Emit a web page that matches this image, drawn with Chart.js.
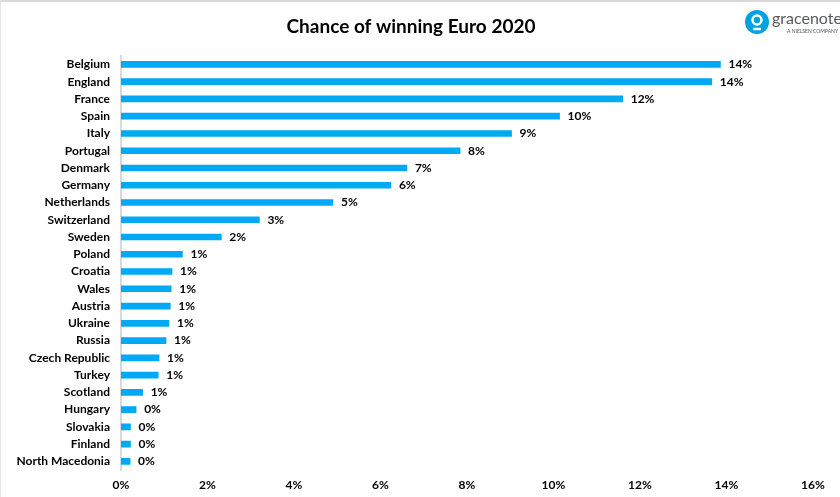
<!DOCTYPE html>
<html>
<head>
<meta charset="utf-8">
<script src="https://cdn.jsdelivr.net/npm/chart.js@4"></script>
<style>
  html, body { margin: 0; padding: 0; background: #fff; }
  #wrap { position: relative; width: 840px; height: 497px; box-sizing: border-box; border-top: 2px solid #d9d9d9; border-left: 1px solid #e5e5e5; }
</style>
</head>
<body>
<div id="wrap"><canvas id="euro"></canvas></div>
<script>
const countries = ["Belgium", "England", "France", "Spain", "Italy", "Portugal", "Denmark", "Germany",
                   "Netherlands", "Switzerland", "Sweden", "Poland", "Croatia", "Wales", "Austria",
                   "Ukraine", "Russia", "Czech Republic", "Turkey", "Scotland", "Hungary", "Slovakia",
                   "Finland", "North Macedonia"];
const chances = [13.86, 13.66, 11.6, 10.14, 9.03, 7.84, 6.61, 6.24,
                 4.9, 3.2, 2.32, 1.42, 1.18, 1.16, 1.14,
                 1.11, 1.04, 0.88, 0.86, 0.5, 0.35, 0.22,
                 0.22, 0.21];
const barColor = "#00a9f4";
const fontName = "Lato, 'Liberation Sans', sans-serif";

// percent labels at the end of each bar
const barLabels = {
  id: "barLabels",
  afterDatasetsDraw(chart) {
    const ctx = chart.ctx;
    const meta = chart.getDatasetMeta(0);
    ctx.save();
    ctx.font = "bold 12px " + fontName;
    ctx.fillStyle = "#000";
    ctx.textBaseline = "middle";
    meta.data.forEach((bar, i) => {
      ctx.fillText(Math.round(chances[i]) + "%", bar.x + 8, bar.y);
    });
    ctx.restore();
  }
};

// gracenote logo, top right
const logo = {
  id: "logo",
  afterDraw(chart) {
    const ctx = chart.ctx;
    ctx.save();
    ctx.fillStyle = "#00a3e0";
    ctx.beginPath();
    ctx.arc(756, 20, 12, 0, Math.PI * 2);
    ctx.fill();
    ctx.strokeStyle = "#fff";
    ctx.lineWidth = 2.5;
    ctx.beginPath();
    ctx.arc(756, 18, 4.5, 0, Math.PI * 2);
    ctx.stroke();
    ctx.beginPath();
    ctx.moveTo(752, 27);
    ctx.lineTo(760, 27);
    ctx.stroke();
    ctx.fillStyle = "#58595b";
    ctx.font = "16px " + fontName;
    ctx.textBaseline = "alphabetic";
    ctx.fillText("gracenote", 771, 22);
    ctx.font = "5px " + fontName;
    ctx.fillText("A NIELSEN COMPANY", 786, 31);
    ctx.restore();
  }
};

new Chart("euro", {
  type: "bar",
  data: {
    labels: countries,
    datasets: [{
      data: chances,
      backgroundColor: barColor,
      barThickness: 6
    }]
  },
  options: {
    indexAxis: "y",
    responsive: true,
    maintainAspectRatio: false,
    animation: false,
    layout: { padding: { left: 8, right: 27, top: 0, bottom: 0 } },
    plugins: {
      legend: { display: false },
      tooltip: { enabled: false },
      title: {
        display: true,
        text: "Chance of winning Euro 2020",
        color: "#000",
        font: { family: fontName, size: 19, weight: "bold" },
        padding: { top: 13, bottom: 18 }
      }
    },
    scales: {
      x: {
        min: 0,
        max: 16,
        ticks: {
          stepSize: 2,
          color: "#000",
          padding: 8,
          font: { family: fontName, size: 12, weight: "bold" },
          callback: v => v + "%"
        },
        grid: { display: false, drawTicks: false },
        border: { display: false },
        afterFit: axis => { axis.height = 27; }
      },
      y: {
        ticks: {
          autoSkip: false,
          color: "#000",
          padding: 11,
          font: { family: fontName, size: 12, weight: "bold" }
        },
        grid: { display: false, drawTicks: false },
        border: { display: true, color: "#d9d9d9", width: 2 },
        afterFit: axis => { axis.width = 112; }
      }
    }
  },
  plugins: [barLabels, logo]
});
</script>
</body>
</html>
